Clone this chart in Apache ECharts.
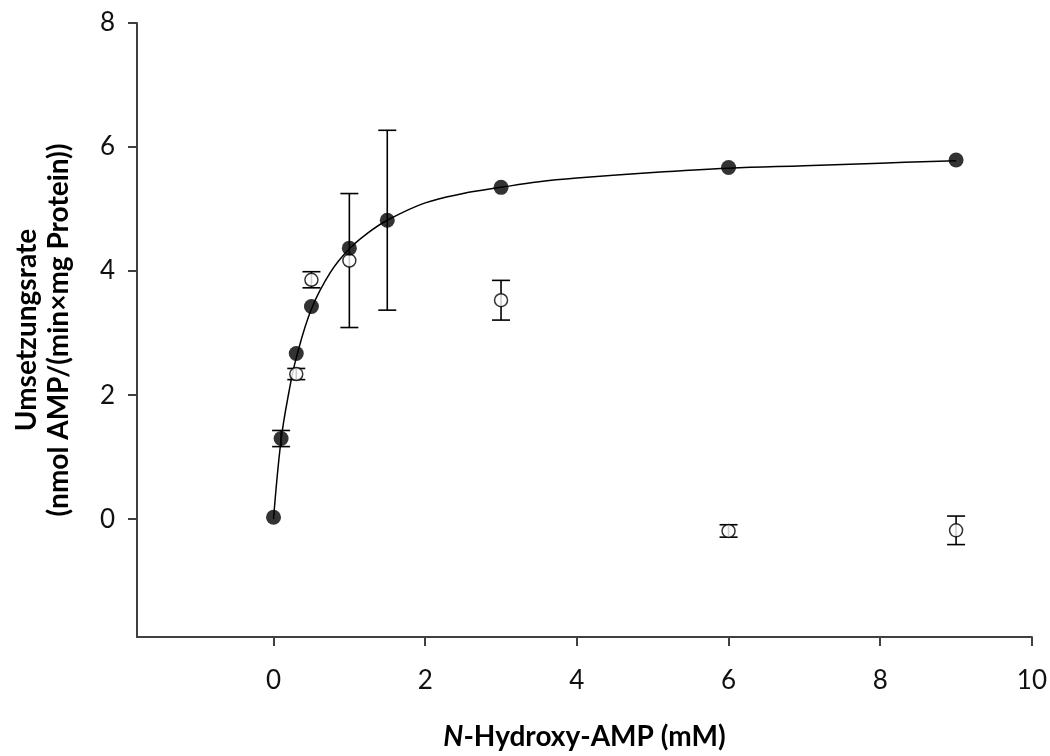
<!DOCTYPE html>
<html>
<head>
<meta charset="utf-8">
<script src="https://cdn.jsdelivr.net/npm/echarts@6/dist/echarts.min.js"></script>
<style>html,body{margin:0;padding:0;background:#fff}#c{width:1050px;height:756px}</style>
</head>
<body>
<div id="c"></div>
<script>
// Filled circles (fitted)
var concFilled = [0, 0.1, 0.3, 0.5, 1, 1.5, 3, 6, 9];
var rateFilled = [0.03, 1.30, 2.67, 3.43, 4.37, 4.82, 5.35, 5.67, 5.79];
var errFilled  = [0, 0.13, 0, 0, 0, 1.45, 0, 0, 0];
// Open circles
var concOpen = [0.3, 0.5, 1, 3, 6, 9];
var rateOpen = [2.34, 3.86, 4.17, 3.53, -0.19, -0.18];
var errOpen  = [0.09, 0.13, 1.08, 0.32, 0.10, 0.23];
// Fitted curve
var curveX = [0, 0.1, 0.2, 0.3, 0.5, 0.75, 1, 1.25, 1.5, 2, 2.5, 3, 3.5, 4, 5, 6, 7, 8, 9];
var curveY = [0, 1.28, 2.03, 2.60, 3.39, 3.98, 4.36, 4.62, 4.82, 5.10, 5.25, 5.35, 5.44, 5.50, 5.59, 5.66, 5.70, 5.74, 5.78];
// Ticks
var xTicks = [0, 2, 4, 6, 8, 10];
var yTicks = [0, 2, 4, 6, 8];

function pairs(xs, ys) { return xs.map(function (x, i) { return [x, ys[i]]; }); }
function errData(xs, ys, es) {
  var out = [];
  xs.forEach(function (x, i) { if (es[i] > 0) out.push([x, ys[i] - es[i], ys[i] + es[i]]); });
  return out;
}
function errRender(params, api) {
  var x = api.value(0), lo = api.value(1), hi = api.value(2);
  var pLo = api.coord([x, lo]), pHi = api.coord([x, hi]);
  var w = 9;
  var st = { stroke: '#000', lineWidth: 1.6 };
  return {
    type: 'group',
    children: [
      { type: 'line', shape: { x1: pLo[0], y1: pLo[1], x2: pHi[0], y2: pHi[1] }, style: st },
      { type: 'line', shape: { x1: pLo[0] - w, y1: pLo[1], x2: pLo[0] + w, y2: pLo[1] }, style: st },
      { type: 'line', shape: { x1: pHi[0] - w, y1: pHi[1], x2: pHi[0] + w, y2: pHi[1] }, style: st }
    ]
  };
}

var FONT = 'Lato, "Open Sans", sans-serif';
var chart = echarts.init(document.getElementById('c'), null, { renderer: 'canvas' });
chart.setOption({
  animation: false,
  backgroundColor: '#fff',
  grid: { left: 137, right: 18, top: 23, bottom: 117, containLabel: false },
  xAxis: {
    type: 'value', min: -1.8, max: 10,
    name: '{i|N}-Hydroxy-AMP (mM)',
    nameLocation: 'middle', nameGap: 86,
    nameTextStyle: {
      fontFamily: FONT, fontSize: 28, fontWeight: 'bold', color: '#000',
      rich: { i: { fontFamily: FONT, fontSize: 28, fontWeight: 'bold', fontStyle: 'italic', color: '#000' } }
    },
    axisLine: { onZero: false, lineStyle: { color: '#404040', width: 2 } },
    axisTick: { show: true, inside: false, length: 9, customValues: xTicks, lineStyle: { color: '#404040', width: 2 } },
    axisLabel: { customValues: xTicks, margin: 31, fontFamily: FONT, fontSize: 26, color: '#111' },
    splitLine: { show: false }
  },
  yAxis: {
    type: 'value', min: -1.9, max: 8,
    name: 'Umsetzungsrate\n(nmol AMP/(min×mg Protein))',
    nameLocation: 'middle', nameGap: 62, nameRotate: 90,
    nameTextStyle: { fontFamily: FONT, fontSize: 28, fontWeight: 'bold', color: '#000', lineHeight: 32, align: 'center' },
    axisLine: { onZero: false, lineStyle: { color: '#404040', width: 2 } },
    axisTick: { show: true, inside: false, length: 9, customValues: yTicks, lineStyle: { color: '#404040', width: 2 } },
    axisLabel: { customValues: yTicks, margin: 22, fontFamily: FONT, fontSize: 26, color: '#111' },
    splitLine: { show: false }
  },
  series: [
    {
      type: 'line', data: pairs(curveX, curveY), smooth: 0.4, showSymbol: false, symbol: 'none',
      lineStyle: { color: '#000', width: 1.5 }, z: 1, silent: true
    },
    { type: 'custom', renderItem: errRender, data: errData(concOpen, rateOpen, errOpen), z: 2, silent: true },
    { type: 'custom', renderItem: errRender, data: errData(concFilled, rateFilled, errFilled), z: 2, silent: true },
    {
      type: 'scatter', data: pairs(concOpen, rateOpen), symbol: 'circle', symbolSize: 13,
      itemStyle: { color: '#fff', borderColor: '#000', borderWidth: 1.5 }, z: 3
    },
    {
      type: 'scatter', data: pairs(concFilled, rateFilled), symbol: 'circle', symbolSize: 15,
      itemStyle: { color: '#000', borderColor: '#000', borderWidth: 0 }, z: 4
    }
  ]
});
</script>
</body>
</html>
